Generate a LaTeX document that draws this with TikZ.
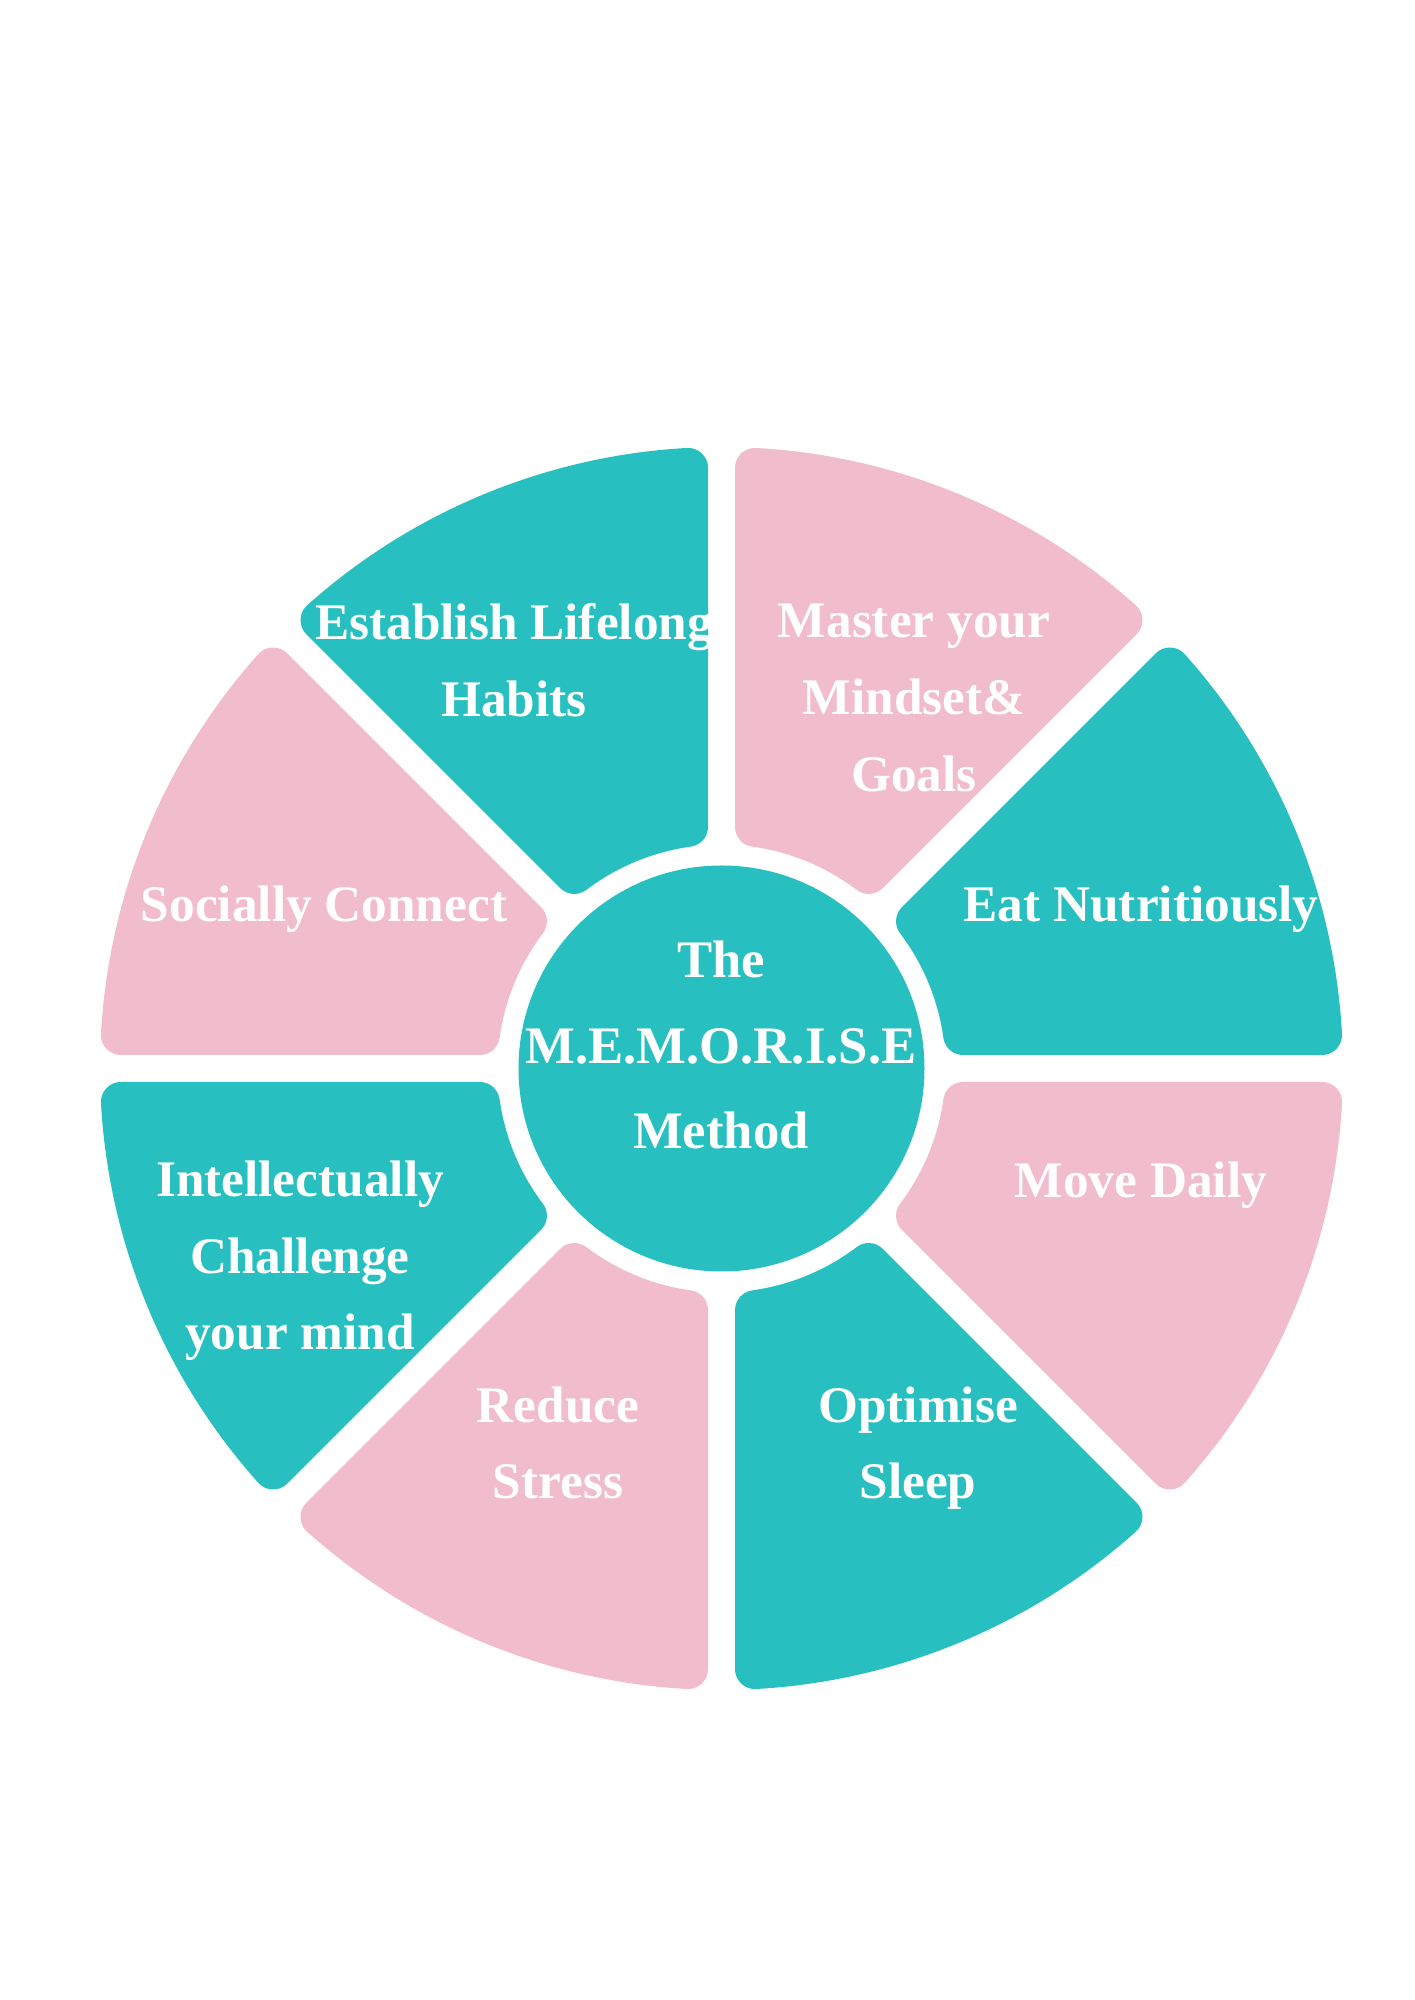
\documentclass[tikz,border=0pt]{standalone}
\usepackage{fontspec}
\setmainfont{Liberation Serif}
\usetikzlibrary{positioning}

\definecolor{wheelteal}{RGB}{39,191,191}
\definecolor{wheelpink}{RGB}{241,188,204}

\begin{document}
\begin{tikzpicture}[
    segment/.style={line width=4mm,line join=round},
    hub/.style={circle,fill=wheelteal,minimum size=40.6mm,inner sep=0pt},
    label/.style={text=white,align=center,inner sep=0pt,font=\bfseries\fontsize{14.6}{21.8}\selectfont},
    title/.style={label,font=\bfseries\fontsize{15}{24.2}\selectfont},
]
\useasboundingbox (0,0) rectangle (14.14,20);
\coordinate (c) at (7.215,9.315);

% ===== Segments =====
% inset by 2mm, then stroked 4mm with round joins -> 2mm rounded corners
\begin{scope}[shift={(c)}]
\foreach \a/\col in {0/wheelteal,45/wheelpink,90/wheelteal,135/wheelpink,180/wheelteal,225/wheelpink,270/wheelteal,315/wheelpink}{
    \filldraw[segment,draw=\col,fill=\col] (\a+7.891:2.44) -- (\a+3.193:6.015)
        arc[start angle=\a+3.193,end angle=\a+41.807,radius=6.015]
        -- (\a+37.109:2.44)
        arc[start angle=\a+37.109,end angle=\a+7.891,radius=2.44] -- cycle;
}
\end{scope}

% ===== Hub =====
\node[hub] (hub) at (c) {};
\node[title] (method) at (7.21,9.55) {The\\M.E.M.O.R.I.S.E\\Method};

% ===== Labels =====
\node[label] (habits) at (5.14,13.40) {Establish Lifelong\\Habits};
\node[label] (mindset) at (9.14,13.02) {Master your\\Mindset\&\\Goals};
\node[label] (eat) at (11.41,10.91) {Eat Nutritiously};
\node[label] (social) at (3.24,10.91) {Socially Connect};
\node[label] (move) at (11.41,8.15) {Move Daily};
\node[label] (intellect) at (3.00,7.39) {Intellectually\\Challenge\\your mind};
\node[label] (stress) at (5.58,5.57) {Reduce\\Stress};
\node[label] (sleep) at (9.18,5.52) {Optimise\\Sleep};

\end{tikzpicture}
\end{document}
